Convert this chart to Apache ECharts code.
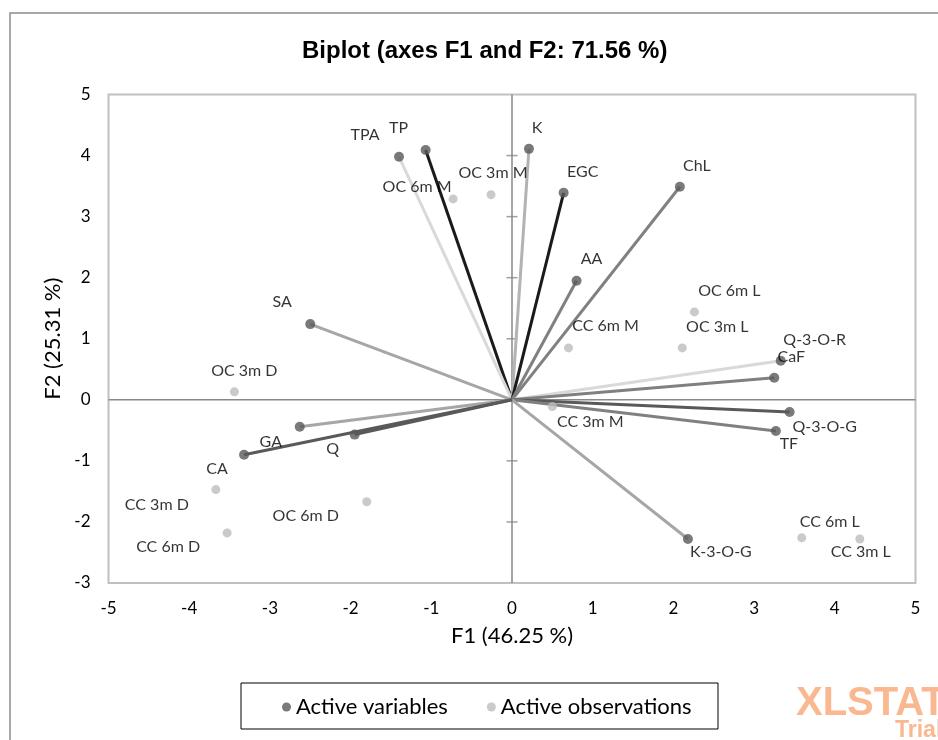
<!DOCTYPE html>
<html><head><meta charset="utf-8">
<script src="https://cdn.jsdelivr.net/npm/echarts@6/dist/echarts.min.js"></script>
<style>html,body{margin:0;padding:0;background:#fff}#c{width:938px;height:740px}</style>
</head><body><div id="c"></div><script>
// ---- data ----
const varNames = ['TP','TPA','K','EGC','ChL','AA','SA','Q-3-O-R','CaF','Q-3-O-G','TF','K-3-O-G','GA','Q','CA'];
const varF1 = [-1.07,-1.40,0.21,0.64,2.08,0.80,-2.50,3.33,3.25,3.44,3.27,2.18,-2.63,-1.95,-3.32];
const varF2 = [4.09,3.98,4.11,3.39,3.49,1.95,1.24,0.64,0.36,-0.20,-0.51,-2.28,-0.44,-0.57,-0.90];
const obsNames = ['OC 6m M','OC 3m M','OC 6m L','OC 3m L','CC 6m M','OC 3m D','CC 3m D','CC 6m D','OC 6m D','CC 3m M','CC 6m L','CC 3m L'];
const obsF1 = [-0.73,-0.26,2.26,2.11,0.70,-3.44,-3.67,-3.53,-1.80,0.50,3.59,4.31];
const obsF2 = [3.29,3.36,1.44,0.85,0.85,0.13,-1.47,-2.18,-1.67,-0.11,-2.26,-2.28];
const xTicks = [-5,-4,-3,-2,-1,0,1,2,3,4,5];
const yTicks = [-3,-2,-1,0,1,2,3,4,5];
const titleText = 'Biplot (axes F1 and F2: 71.56 %)';
const xName = 'F1 (46.25 %)';
const yName = 'F2 (25.31 %)';
const legendNames = ['Active variables','Active observations'];

// ---- styles ----
const varLineColors = ['#1a1a1a','#d9d9d9','#b3b3b3','#1a1a1a','#808080','#808080','#a6a6a6','#d9d9d9','#808080','#595959','#808080','#a6a6a6','#a6a6a6','#595959','#595959'];
const varLabelOffsets = [[-27,-22],[-34,-22],[8,-21],[19,-21],[17,-21],[15,-22],[-28,-22],[34,-21],[17,-21],[35,15],[13,13],[33,13],[-29,15],[-22,14],[-27,14]];
const obsLabelOffsets = [[-36,-12],[2,-22],[35,-21],[35,-21],[37,-22],[10,-21],[-59,15],[-59,14],[-61,14],[38,15],[28,-16],[1,13]];
const FONT = 'Lato, "Open Sans", sans-serif';

const series = [];
// zero axes
series.push({type:'line', silent:true, symbol:'none', z:1, lineStyle:{color:'#888',width:1.5}, data:[[xTicks[0],0],[xTicks[xTicks.length-1],0]]});
series.push({type:'line', silent:true, symbol:'none', z:1, lineStyle:{color:'#888',width:1.5}, data:[[0,yTicks[0]],[0,yTicks[yTicks.length-1]]]});
series.push({type:'scatter', silent:true, z:1, symbol:'rect', symbolSize:[11,1.5], itemStyle:{color:'#888'},
  data: yTicks.filter(v=>v!==0 && v!==yTicks[0] && v!==yTicks[yTicks.length-1]).map(v=>[0,v])});
// variable vectors
varNames.forEach((n,i)=>{
  series.push({type:'line', silent:true, symbol:'none', z:2, lineStyle:{color:varLineColors[i], width:3},
    data:[[0,0],[varF1[i],varF2[i]]]});
});
series.push({name:legendNames[0], type:'scatter', z:5, symbol:'circle', symbolSize:10, itemStyle:{color:'#595959'},
  label:{show:true, position:'inside', color:'#000', fontSize:16, fontFamily:FONT, formatter:p=>p.name},
  data: varNames.map((n,i)=>({name:n, value:[varF1[i],varF2[i]], label:{offset:varLabelOffsets[i]}}))});
series.push({name:legendNames[1], type:'scatter', z:4, symbol:'circle', symbolSize:9, itemStyle:{color:'#bdbdbd'},
  label:{show:true, position:'inside', color:'#000', fontSize:16, fontFamily:FONT, formatter:p=>p.name},
  data: obsNames.map((n,i)=>({name:n, value:[obsF1[i],obsF2[i]], label:{offset:obsLabelOffsets[i]}}))});

const chart = echarts.init(document.getElementById('c'), null, {renderer:'canvas'});
chart.setOption({
  backgroundColor:'#fff',
  animation:false,
  title:{text:titleText, left:297, top:34, textStyle:{fontFamily:'"Liberation Sans", Arial, sans-serif', fontWeight:'bold', fontSize:24, color:'#000'}},
  grid:{left:108.5, right:22.5, top:94.5, bottom:157, show:true, borderColor:'#c0c0c0', borderWidth:2, backgroundColor:'transparent'},
  xAxis:{type:'value', min:xTicks[0], max:xTicks[xTicks.length-1], interval:1,
    axisLine:{show:false}, axisTick:{show:false}, splitLine:{show:false},
    axisLabel:{fontSize:17, color:'#000', margin:17, fontFamily:FONT},
    name:xName, nameLocation:'middle', nameGap:42, nameTextStyle:{fontSize:22, color:'#000', fontFamily:FONT}},
  yAxis:{type:'value', min:yTicks[0], max:yTicks[yTicks.length-1], interval:1,
    axisLine:{show:false}, axisTick:{show:false}, splitLine:{show:false},
    axisLabel:{fontSize:17, color:'#000', margin:18, fontFamily:FONT},
    name:yName, nameLocation:'middle', nameGap:26, nameTextStyle:{fontSize:22, color:'#000', fontFamily:FONT}},
  legend:{data:legendNames, left:277, top:691, itemWidth:9, itemHeight:9, itemGap:39, icon:'circle',
    textStyle:{fontSize:22, color:'#000', fontFamily:FONT}},
  graphic:[
    {type:'rect', shape:{x:10, y:13, width:1000, height:800}, style:{fill:'none', stroke:'#8c8c8c', lineWidth:1.5}, silent:true},
    {type:'rect', shape:{x:241, y:683, width:477, height:46}, style:{fill:'none', stroke:'#000', lineWidth:1}, silent:true},
    {type:'text', x:796, y:684, style:{text:'XLSTAT', fill:'#f9b890', font:'bold 40px "Liberation Sans", Arial, sans-serif'}, silent:true},
    {type:'text', x:895, y:719, style:{text:'Trial', fill:'#f9b890', font:'bold 23px "Liberation Sans", Arial, sans-serif'}, silent:true}
  ],
  series: series
});
</script></body></html>
